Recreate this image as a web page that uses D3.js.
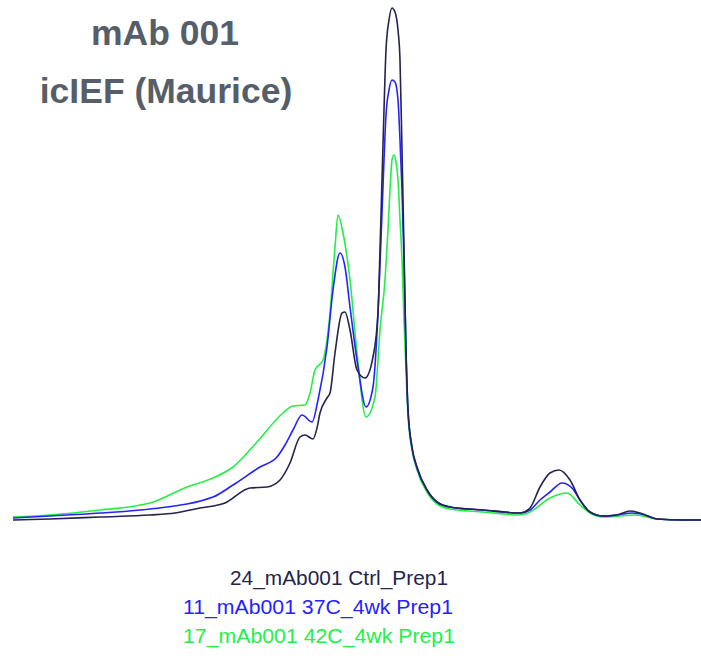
<!DOCTYPE html>
<meta charset="utf-8">
<head>
  <title>mAb 001 icIEF</title>
  <script src="https://d3js.org/d3.v7.min.js"></script>
  <style>
    body { margin: 0; background: #fff; }
    .title { font-family: "Liberation Sans", Arial, sans-serif; font-weight: bold; font-size: 35.5px; fill: #565e69; }
    .legend text { font-family: "Liberation Sans", Arial, sans-serif; font-size: 21px; }
    .trace { fill: none; stroke-width: 1.6px; stroke-linejoin: round; }
  </style>
</head>
<body>
<svg width="701" height="660"></svg>
<script>
// electropherogram traces: position along capillary, signal
var ctrlX = [13, 50, 100, 150, 175, 200, 225, 250, 267, 280, 290, 300, 305, 313, 317, 320, 327, 330, 335, 342, 345, 350, 357, 365, 373, 378, 380, 382, 384, 386, 389, 392, 395, 398, 400, 402, 404, 406, 408, 412, 417, 427, 437, 450, 483, 520, 530, 540, 550, 559, 570, 580, 590, 603, 617, 630, 640, 657, 683, 701];
var ctrlY = [0, 1, 3, 5, 7, 12, 17, 32, 33, 40, 57, 83, 85, 81, 92, 107, 122, 127, 167, 207, 208, 190, 150, 142, 163, 207, 270, 340, 410, 470, 500, 512, 508, 490, 460, 370, 270, 170, 110, 73, 53, 30, 18, 13, 10, 7, 12, 33, 47, 50, 40, 20, 8, 4, 5, 9, 7, 1, 0, 0];

var c37X = [13, 50, 100, 150, 213, 233, 260, 277, 285, 293, 302, 312, 318, 327, 333, 340, 345, 350, 358, 366, 373, 378, 382, 384, 386, 389, 392, 395, 398, 400, 402, 404, 406, 408, 412, 417, 427, 437, 450, 483, 520, 530, 540, 550, 562, 572, 580, 590, 603, 617, 632, 645, 657, 683, 701];
var c37Y = [2, 4, 7, 11, 23, 35, 53, 63, 75, 90, 105, 98, 120, 173, 230, 267, 253, 213, 153, 113, 133, 207, 307, 360, 405, 430, 440, 438, 420, 380, 330, 260, 170, 110, 72, 52, 30, 18, 13, 10, 7, 10, 20, 28, 37, 32, 20, 8, 4, 5, 7, 5, 1, 0, 0];

var c42X = [13, 50, 100, 150, 187, 213, 233, 257, 283, 293, 305, 310, 315, 323, 330, 335, 338, 343, 350, 357, 366, 375, 380, 385, 388, 390, 392, 394, 396, 398, 400, 402, 404, 406, 408, 412, 417, 427, 437, 450, 483, 520, 530, 550, 567, 580, 590, 603, 620, 635, 657, 683, 701];
var c42Y = [3, 5, 10, 17, 33, 42, 53, 78, 107, 114, 115, 127, 150, 160, 207, 273, 305, 287, 240, 167, 103, 123, 190, 240, 290, 330, 360, 365, 358, 340, 300, 260, 200, 150, 105, 70, 50, 28, 16, 11, 8, 5, 8, 22, 27, 15, 7, 3, 4, 5, 1, 0, 0];

var seriesNames = ["24_mAb001 Ctrl_Prep1", "11_mAb001 37C_4wk Prep1", "17_mAb001 42C_4wk Prep1"];
var seriesColors = ["#24244e", "#2323ff", "#22f048"];

var svg = d3.select("svg");

var x = d3.scaleLinear().domain([13, 701]).range([13, 701]);
var y = d3.scaleLinear().domain([0, 512]).range([520, 8]);

var line = d3.line()
  .curve(d3.curveMonotoneX)
  .x(function(d) { return x(d[0]); })
  .y(function(d) { return y(d[1]); });

var traces = [
  d3.zip(ctrlX, ctrlY),
  d3.zip(c37X, c37Y),
  d3.zip(c42X, c42Y)
];

// draw green first, black on top
[2, 1, 0].forEach(function(i) {
  svg.append("path")
    .attr("class", "trace")
    .attr("d", line(traces[i]))
    .attr("stroke", seriesColors[i]);
});

svg.append("text").attr("class", "title")
  .attr("x", 165).attr("y", 45).attr("text-anchor", "middle")
  .text("mAb 001");
svg.append("text").attr("class", "title")
  .attr("x", 166).attr("y", 103).attr("text-anchor", "middle")
  .text("icIEF (Maurice)");

var legendPos = [[230, 585, 218], [183, 614, 270], [183, 643, 272]];
var legend = svg.append("g").attr("class", "legend");
legend.selectAll("text")
  .data(seriesNames)
  .enter().append("text")
    .attr("x", function(d, i) { return legendPos[i][0]; })
    .attr("y", function(d, i) { return legendPos[i][1]; })
    .attr("textLength", function(d, i) { return legendPos[i][2]; })
    .attr("lengthAdjust", "spacingAndGlyphs")
    .attr("fill", function(d, i) { return seriesColors[i]; })
    .text(function(d) { return d; });
</script>
</body>
